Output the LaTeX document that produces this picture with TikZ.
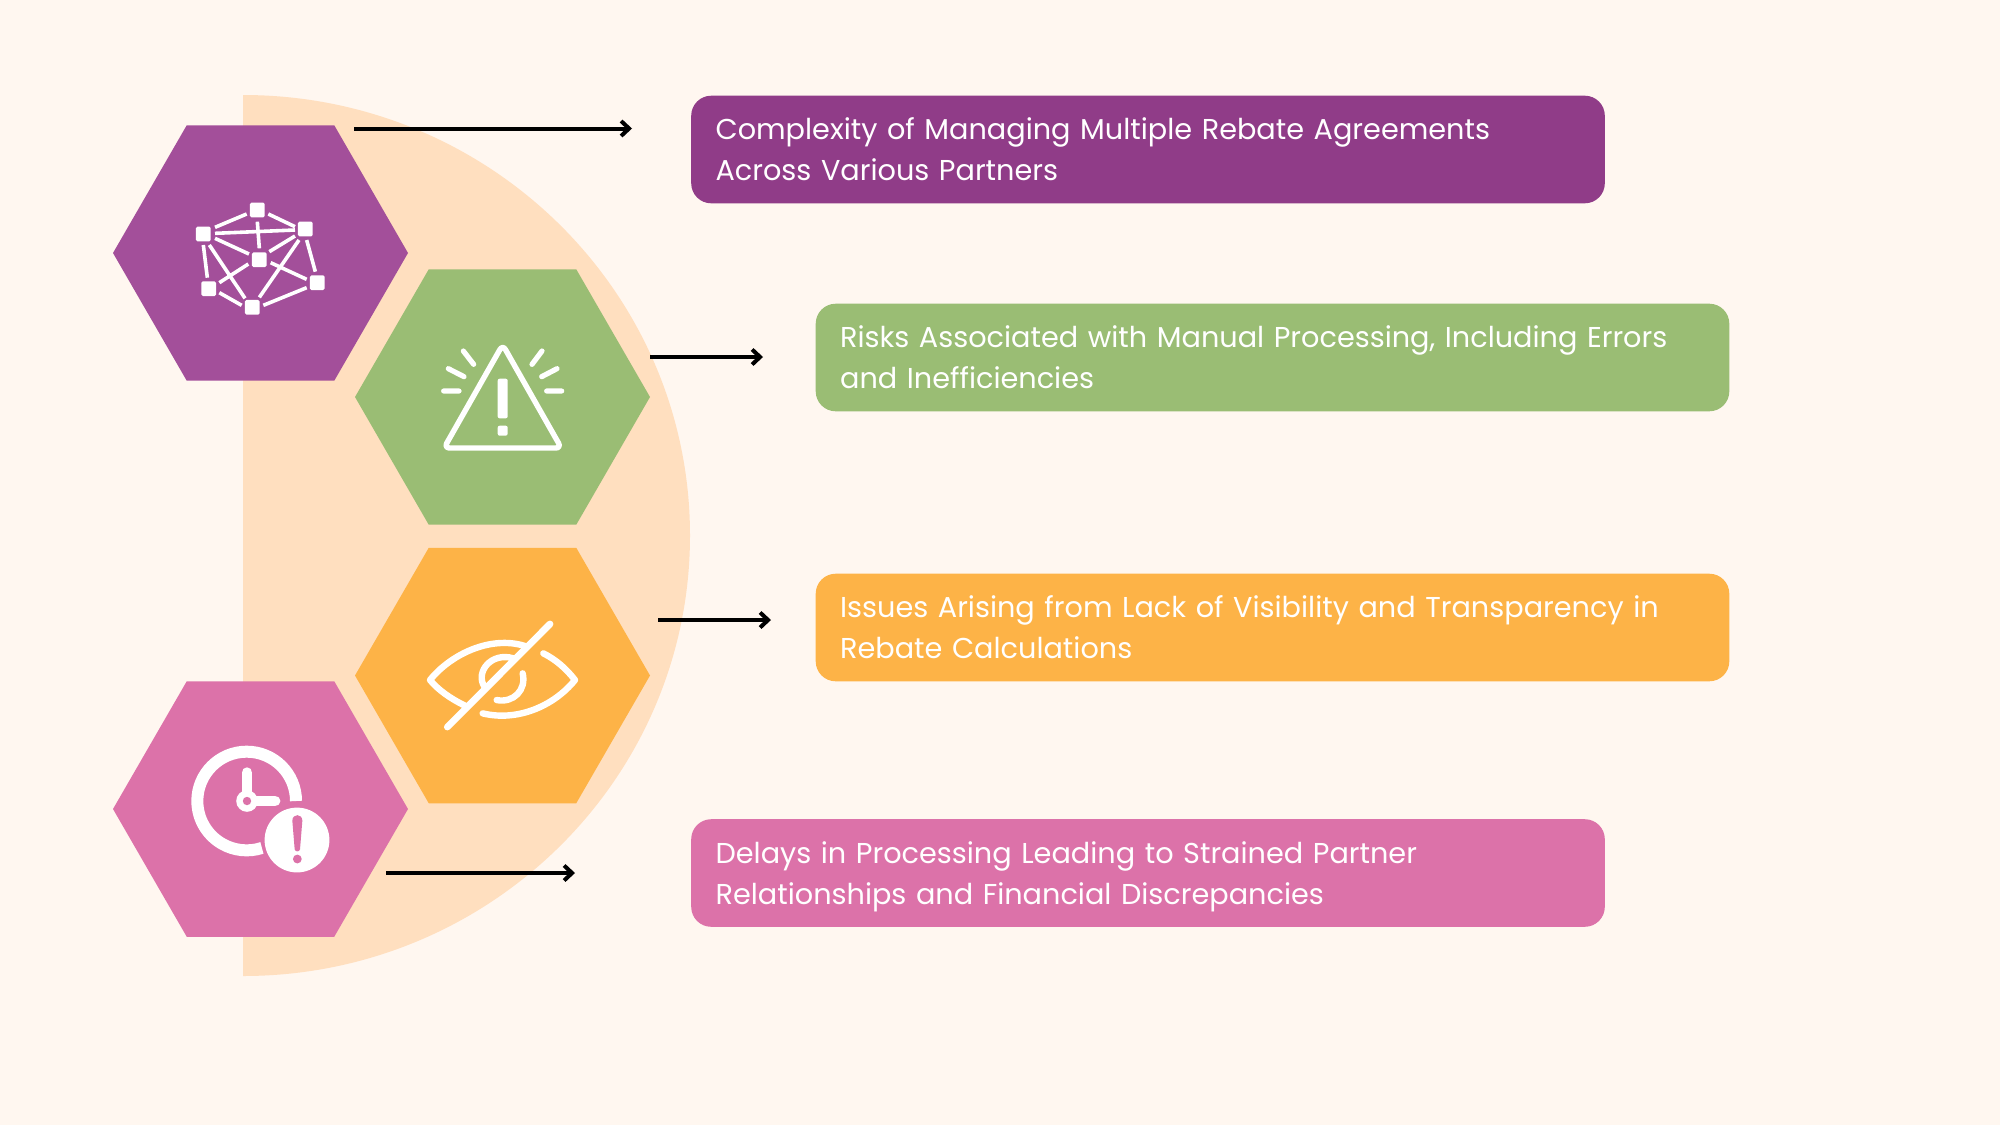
\documentclass[tikz,border=0pt]{standalone}
\usepackage{fontspec}
\setmainfont{Poppins}
\usetikzlibrary{shapes.geometric,arrows.meta}
\definecolor{bgc}{HTML}{FFF7F0}
\definecolor{disc}{HTML}{FFDFBF}
\definecolor{hexpurple}{HTML}{A34F9A}
\definecolor{boxpurple}{HTML}{903C88}
\definecolor{hexgreen}{HTML}{9ABD74}
\definecolor{hexorange}{HTML}{FDB347}
\definecolor{hexpink}{HTML}{DC72A9}
\newcommand{\mytopstrut}{\vrule height 16.7pt depth 0pt width 0pt\relax}
\newcommand{\mybotstrut}{\vrule height 0pt depth 6.15pt width 0pt\relax}
\tikzset{
  hexa/.style={regular polygon,regular polygon sides=6,minimum size=147.5pt,inner sep=0pt,outer sep=0pt,draw=none},
  tbox/.style={rectangle,rounded corners=10pt,minimum height=53.8pt,inner xsep=12.2pt,inner ysep=0pt,text width=432.4pt,align=left,text=white,draw=none,font=\fontsize{14.36pt}{20.5pt}\selectfont},
  wire/.style={-{Straight Barb[length=4pt,width=7.5pt,line width=2pt]},line width=2pt,black},
  iconline/.style={white,line width=#1,line cap=round,line join=round},
  netline/.style={white,line width=1.8pt},
  netnode/.style={fill=white,draw=none,rectangle,rounded corners=0.8pt,minimum size=7.4pt,inner sep=0pt},
  zoomed/.style={x=0.166667pt,y=-0.166667pt}
}
\begin{document}
\begin{tikzpicture}[x=0.5pt,y=-0.5pt]
\useasboundingbox (0,0) rectangle (2000,1125);
\fill[bgc] (0,0) rectangle (2000,1125);
% half disc
\fill[disc] (243,95) arc[start angle=90,end angle=-90,x radius=223.5pt,y radius=220.25pt] -- cycle;
% hexagons
\node[hexa,fill=hexpurple] (h1) at (260.5,253) {};
\node[hexa,fill=hexgreen] (h2) at (502.5,397) {};
\node[hexa,fill=hexorange] (h3) at (502.5,675.5) {};
\node[hexa,fill=hexpink] (h4) at (260.5,809) {};
% text boxes
\node[tbox,fill=boxpurple] (b1) at (1148,149.5) {\mytopstrut Complexity of Managing Multiple Rebate Agreements\\Across Various Partners\mybotstrut};
\node[tbox,fill=hexgreen] (b2) at (1272.5,357.5) {\mytopstrut Risks Associated with Manual Processing, Including Errors\\and Inefficiencies\mybotstrut};
\node[tbox,fill=hexorange] (b3) at (1272.5,627.5) {\mytopstrut Issues Arising from Lack of Visibility and Transparency in\\Rebate Calculations\mybotstrut};
\node[tbox,fill=hexpink] (b4) at (1148,873) {\mytopstrut Delays in Processing Leading to Strained Partner\\Relationships and Financial Discrepancies\mybotstrut};
% arrows
\coordinate (a1s) at (354,128.5); \coordinate (a1e) at (632,128.5);
\coordinate (a2s) at (650,357); \coordinate (a2e) at (763,357);
\coordinate (a3s) at (658,620); \coordinate (a3e) at (771,620);
\coordinate (a4s) at (386,873); \coordinate (a4e) at (575,873);
\draw[wire] (a1s) -- (a1e);
\draw[wire] (a2s) -- (a2e);
\draw[wire] (a3s) -- (a3e);
\draw[wire] (a4s) -- (a4e);
% network icon
\begin{scope}[shift={(100,110)},zoomed]
\draw[netline] (345,352)--(440,312) (505,312)--(585,350) (345,370)--(585,360) (472,335)--(478,415)
 (345,385)--(447,432) (585,378)--(508,425) (620,390)--(646,485) (597,390)--(478,562)
 (512,458)--(620,508) (310,405)--(322,503) (328,405)--(435,565) (445,462)--(358,518)
 (358,548)--(425,586) (490,586)--(620,533);
\node[netnode] (n1) at (310,372) {};
\node[netnode] (n2) at (472,300) {};
\node[netnode] (n3) at (616,357) {};
\node[netnode] (n4) at (478,449) {};
\node[netnode] (n5) at (652,518) {};
\node[netnode] (n6) at (326,536) {};
\node[netnode] (n7) at (457,592) {};
\end{scope}
% warning icon
\begin{scope}[shift={(350,260)},zoomed]
\draw[iconline=2.7pt,rounded corners=2.8pt] (458,254) -- (634,564) -- (282,564) -- cycle;
\fill[white,rounded corners=1pt] (443,356) rectangle (473,475);
\fill[white,rounded corners=1pt] (443,497) rectangle (473,527);
\draw[iconline=2.6pt] (281,393)--(327,393) (295,326)--(342,350) (340,273)--(371,313)
 (635,393)--(590,393) (621,326)--(575,350) (576,273)--(546,313);
\end{scope}
% eye icon
\begin{scope}[shift={(350,540)},zoomed]
\draw[iconline=3.2pt] (345,497) .. controls (300,475) and (265,450) .. (240,420)
  .. controls (300,345) and (420,285) .. (525,318);
\draw[iconline=3.2pt] (580,340) .. controls (620,360) and (650,388) .. (675,420)
  .. controls (610,500) and (500,545) .. (398,520);
\draw[iconline=3.2pt] (403,440) .. controls (375,395) and (425,335) .. (490,355);
\draw[iconline=3.2pt] (518,400) .. controls (530,450) and (490,490) .. (440,480);
\draw[iconline=3.4pt] (292,561)--(600,252);
\end{scope}
% clock icon
\begin{scope}[shift={(100,670)},zoomed]
\draw[white,line width=6pt] (588,393) arc[start angle=0,end angle=288,radius=24.67pt];
\draw[iconline=5.4pt] (441,308)--(441,380);
\draw[iconline=5.4pt] (450,393)--(525,393);
\fill[white] (441,393) circle[radius=5.4pt];
\fill[hexpink] (441,393) circle[radius=2.1pt];
\fill[white] (591,510) circle[radius=16.2pt];
\fill[hexpink] (577,452) .. controls (577,430) and (607,430) .. (607,452)
  -- (600,538) .. controls (598,546) and (586,546) .. (584,538) -- cycle;
\fill[hexpink] (592,567) circle[radius=2.2pt];
\end{scope}
\end{tikzpicture}
\end{document}
